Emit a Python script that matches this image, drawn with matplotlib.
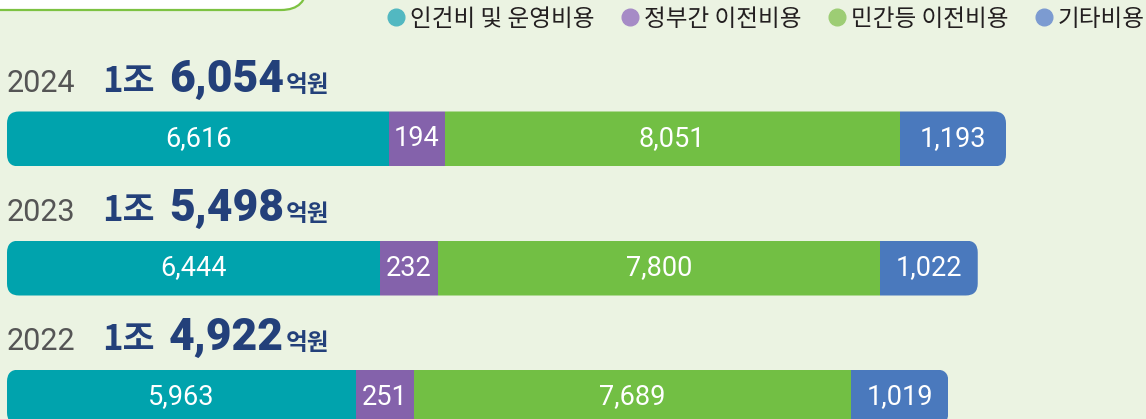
import numpy as np
import matplotlib.pyplot as plt
from matplotlib.patches import FancyBboxPatch
from matplotlib.lines import Line2D
from matplotlib.transforms import offset_copy, Affine2D

years = ['2024', '2023', '2022']
categories = ['인건비 및 운영비용', '정부간 이전비용', '민간등 이전비용', '기타비용']
personnel = [6616, 6444, 5963]
gov_transfer = [194, 232, 251]
private_transfer = [8051, 7800, 7689]
other = [1193, 1022, 1019]

bar_colors = ['#00a3ad', '#8462ab', '#72bf44', '#4a79bd']
dot_colors = ['#52b8c1', '#a68bc6', '#9dcd74', '#7c9bd1']
bg = '#ebf3e2'
navy = '#23407a'
kr = ['Noto Sans CJK KR', 'DejaVu Sans']
num = ['Roboto', 'DejaVu Sans']

W, H = 1146, 419
fig = plt.figure(figsize=(W / 100, H / 100), dpi=100)
fig.patch.set_facecolor(bg)

vals = np.array([personnel, gov_transfer, private_transfer, other], dtype=float)
# every segment gets a fixed extra width so small ones still hold their label
shown = vals + 900
totals = vals.sum(axis=0)

s = 999 / shown[:, 0].sum()   # px per unit
ax = fig.add_axes([0, 0, 1, 1])
ax.set_xlim(-7 / s, (W - 7) / s)
ax.set_ylim((H - 139) / 129, -139 / 129)
ax.axis('off')

bar_h = 55 / 129
r = 12 / s
for i, yr in enumerate(years):
    total_w = shown[:, i].sum()
    clip = FancyBboxPatch((0, i - bar_h / 2), total_w, bar_h,
                          boxstyle=f'round,pad=0,rounding_size={r}',
                          mutation_aspect=s / 129, transform=ax.transData,
                          fc='none', ec='none')
    ax.add_patch(clip)
    lefts = np.concatenate([[0], np.cumsum(shown[:-1, i])])
    bars = ax.barh(i, shown[:, i], left=lefts, height=bar_h, color=bar_colors, linewidth=0)
    for b in bars:
        b.set_clip_path(clip)
    for k in range(4):
        ax.text(lefts[k] + shown[k, i] / 2, i, f'{int(vals[k, i]):,}', ha='center', va='center',
                color='white', fontsize=19.5, family=num)

    # header line above each bar
    def tr(dx):
        return offset_copy(ax.transData, fig=fig, x=dx, y=47, units='dots')
    t = int(totals[i])
    ax.text(0, i, yr, transform=tr(0), fontsize=22, color='#555555', family=num, va='baseline')
    ax.text(0, i, f'{t // 10000}조', transform=tr(95), fontsize=25, color=navy, family=kr,
            fontweight='bold', va='baseline')
    ax.text(0, i, f'{t % 10000:,}', transform=tr(162), fontsize=32, color=navy, family=num,
            fontweight='heavy', va='baseline')
    ax.text(0, i, '억원', transform=tr(279), fontsize=17, color=navy, family=kr,
            fontweight='bold', va='baseline')

# legend
handles = [Line2D([], [], marker='o', ls='', color=c, markersize=12) for c in dot_colors]
fig.legend(handles, categories, loc='center right', bbox_to_anchor=(1145 / W, 1 - 19 / H),
           ncol=4, frameon=False, prop={'family': kr, 'size': 17}, handletextpad=0.2,
           columnspacing=1.1, handlelength=0.8, borderaxespad=0, borderpad=0, labelcolor='#231f20')

# white tab box at top-left
px = Affine2D().scale(1 / W, 1 / H) + fig.transFigure
box = FancyBboxPatch((-40, H - 10), 347, 60, boxstyle='round,pad=0,rounding_size=26',
                     transform=px, fc='white', ec='#7dc242', lw=1.6)
fig.add_artist(box)

fig.savefig('out.png', dpi=100, facecolor=bg)
